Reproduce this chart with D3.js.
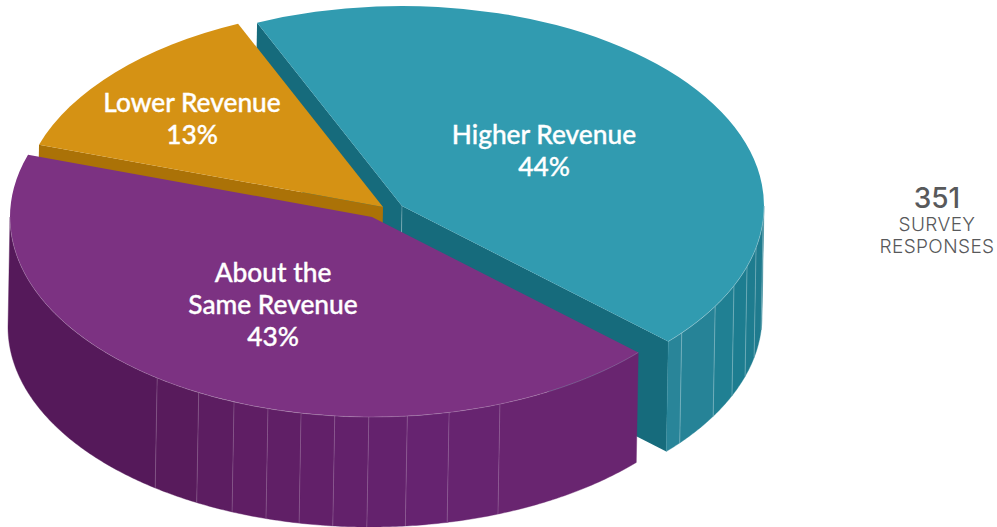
<!DOCTYPE html>
<html>
<head>
<meta charset="utf-8">
<script src="https://cdn.jsdelivr.net/npm/d3@7"></script>
<style>
  html, body { margin: 0; padding: 0; background: #fff; }
  svg { display: block; }
  text { text-anchor: middle; }
  .sliceLabel { font-family: "Lato", sans-serif; font-weight: 500; font-size: 26.3px; fill: #fff; stroke: #fff; stroke-width: 0.35px; }
  .total { font-family: "Inter", sans-serif; fill: #58595b; }
</style>
</head>
<body>
<div id="chart"></div>
<script>
"use strict"

// Data
const categories = ["Higher Revenue", "About the Same Revenue", "Lower Revenue"];
const shares = [43.4, 43.2, 13.4];
const shareLabels = ["44%", "43%", "13%"];
const labelLines = [["Higher Revenue"], ["About the", "Same Revenue"], ["Lower Revenue"]];
const totalResponses = "351";
const totalCaption = ["SURVEY", "RESPONSES"];

// Where the vertical seams fall on the outer wall, degrees clockwise from 12 o'clock
const tealSeams = [94, 102, 107.6, 113.5, 120.1, 129.4];
const purpleSeams = [159.3, 167.7, 174.4, 180.5, 185.9, 191.3, 196.7, 202.4, 208.6, 216.4];

// Layout and colours
const width = 997, height = 527;
const rx = 362, ry = 200;
const depth = 110, lean = -2;
const firstAngle = -23.6;
const sliceCentres = [[402, 206], [372, 217], [383, 207]];
const labelCentres = [[544, 135], [273, 273], [192, 103]];
const topColors = ["#319bb0", "#7c3282", "#d59214"];
const sideColors = ["#166b7c", null, "#ab7207"];

const rad = (deg) => deg * Math.PI / 180;

const tealWall = d3.scaleLinear()
  .domain([94, 113, 125, 133])
  .range(["#1f7a8d", "#1d7e91", "#268397", "#2a8699"]);
const purpleWall = d3.scaleLinear()
  .domain([133, 170, 200, 216, 270])
  .range(["#6a2670", "#662370", "#5f1e64", "#561a5a", "#54185a"]);

/**
 * Point on the rim of a slice, z = 0 on the top face and 1 on the bottom.
 */
function rim(centre, angle, z) {
  return [
    centre[0] + rx * Math.sin(angle) + lean * z,
    centre[1] - ry * Math.cos(angle) + depth * z
  ];
}

function sampleAngles(a0, a1) {
  let angles = d3.range(a0, a1, rad(0.5));
  angles.push(a1);
  return angles;
}

function drawChart() {
  let svg = d3.select("#chart")
    .append("svg")
      .attr("width", width)
      .attr("height", height);

  let pie = d3.pie()
    .sort(null)
    .startAngle(rad(firstAngle))
    .endAngle(rad(firstAngle + 360));
  let slices = pie(shares);

  let arc = d3.arc().innerRadius(0).outerRadius(rx);
  let line = d3.line();

  // straight wall running from the slice centre out to the rim
  function drawSide(group, i, angle) {
    let c = sliceCentres[i];
    let top = rim(c, angle, 0), bottom = rim(c, angle, 1);
    group.append("path")
      .attr("d", line([c, top, bottom, [c[0] + lean, c[1] + depth]]) + "Z")
      .attr("fill", sideColors[i]);
  }

  // curved outer wall cut into facets at the seams
  function drawWall(group, i, a0, a1, seams, color, seamOpacity) {
    let c = sliceCentres[i];
    let edges = [a0, ...seams.map(rad), a1].sort(d3.ascending);
    d3.pairs(edges).forEach(([from, to]) => {
      let angles = sampleAngles(from, to);
      let pts = angles.map((a) => rim(c, a, 0))
        .concat(angles.slice().reverse().map((a) => rim(c, a, 1)));
      group.append("path")
        .attr("d", line(pts) + "Z")
        .attr("fill", color((from + to) / 2 * 180 / Math.PI))
        .attr("stroke", color((from + to) / 2 * 180 / Math.PI))
        .attr("stroke-width", 0.4);
    });
    seams.map(rad).forEach((a) => {
      group.append("path")
        .attr("d", line([rim(c, a, 0), rim(c, a, 1)]))
        .attr("stroke", "#fff")
        .attr("stroke-opacity", seamOpacity)
        .attr("stroke-width", 0.8)
        .attr("fill", "none");
    });
    // light edge where the wall meets the top face
    group.append("path")
      .attr("class", "rimEdge")
      .attr("d", line(sampleAngles(a0, a1).map((a) => rim(c, a, 0))))
      .attr("stroke", "#fff")
      .attr("stroke-opacity", seamOpacity)
      .attr("stroke-width", 0.8)
      .attr("fill", "none");
  }

  function drawTop(group, i) {
    let c = sliceCentres[i];
    group.append("path")
      .attr("d", arc(slices[i]))
      .attr("transform", `translate(${c[0]},${c[1]}) scale(1,${ry / rx})`)
      .attr("fill", topColors[i]);
  }

  // Painter's order: teal at the back, then gold, purple in front
  let teal = svg.append("g");
  drawSide(teal, 0, slices[0].startAngle);
  drawSide(teal, 0, slices[0].endAngle);
  drawWall(teal, 0, rad(90), slices[0].endAngle, tealSeams, tealWall, 0.35);
  teal.append("path")
    .attr("d", line([sliceCentres[0], [sliceCentres[0][0] + lean, sliceCentres[0][1] + depth]]))
    .attr("stroke", "#fff")
    .attr("stroke-opacity", 0.3)
    .attr("stroke-width", 0.8);
  drawTop(teal, 0);
  teal.select(".rimEdge").raise();

  let gold = svg.append("g");
  drawSide(gold, 2, slices[2].startAngle);
  drawTop(gold, 2);

  let purple = svg.append("g");
  drawWall(purple, 1, slices[1].startAngle, rad(270), purpleSeams, purpleWall, 0.22);
  drawTop(purple, 1);
  purple.select(".rimEdge").raise();

  // Slice labels
  categories.forEach((name, i) => {
    let lines = labelLines[i].concat(shareLabels[i]);
    let label = svg.append("text")
      .attr("class", "sliceLabel")
      .attr("aria-label", name);
    lines.forEach((t, j) => {
      label.append("tspan")
        .attr("x", labelCentres[i][0])
        .attr("y", labelCentres[i][1] + j * 32)
        .attr("dy", "0.35em")
        .text(t);
    });
  });

  // Total on the right
  svg.append("text")
    .attr("class", "total")
    .attr("x", 937)
    .attr("y", 208)
    .attr("font-size", 28)
    .attr("font-weight", 500)
    .text(totalResponses);
  totalCaption.forEach((t, i) => {
    svg.append("text")
      .attr("class", "total")
      .attr("x", 937)
      .attr("y", 231 + i * 22)
      .attr("font-size", 19)
      .attr("font-weight", 300)
      .attr("letter-spacing", 0.4)
      .text(t);
  });
}

window.addEventListener("load", drawChart);
</script>
</body>
</html>
